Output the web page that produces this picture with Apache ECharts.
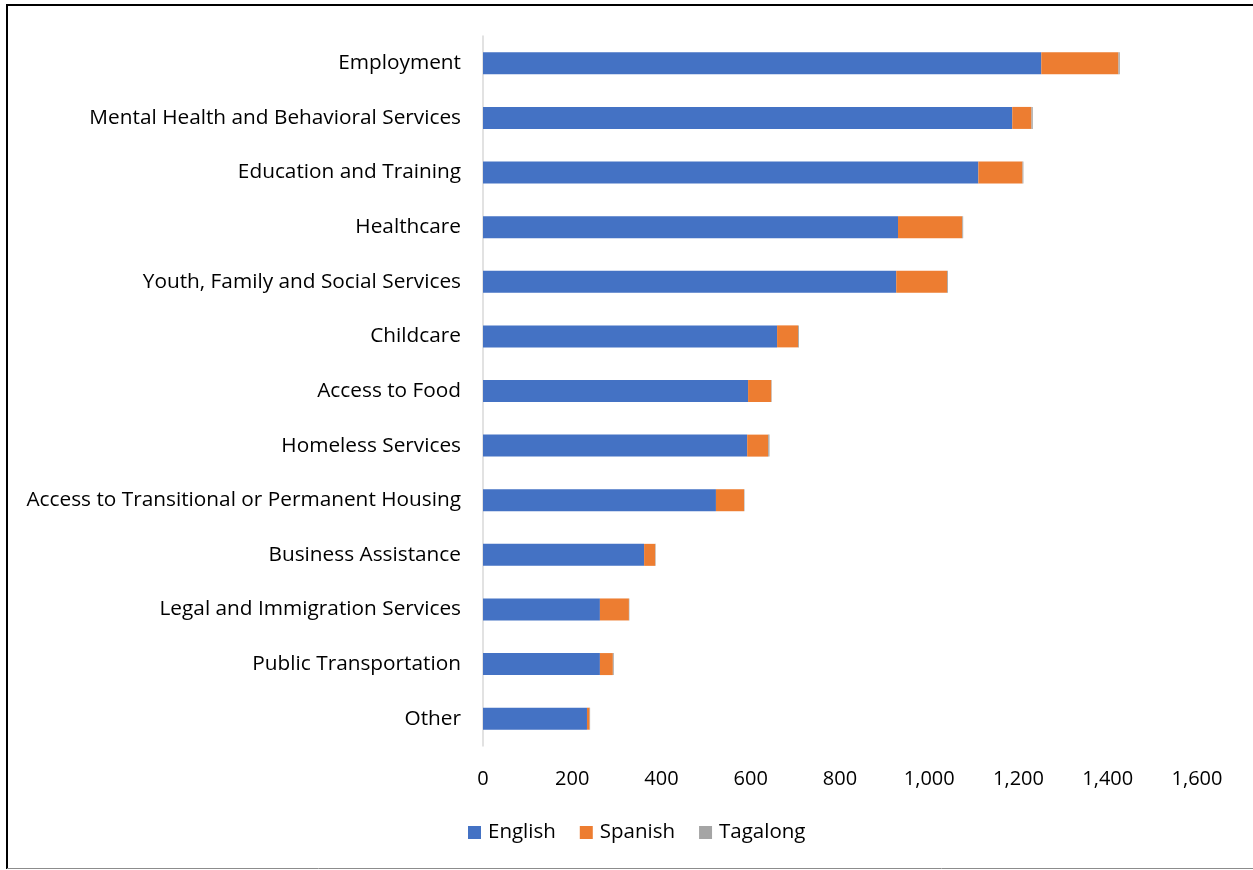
<!DOCTYPE html>
<html>
<head>
<meta charset="utf-8">
<script src="https://cdn.jsdelivr.net/npm/echarts@6/dist/echarts.min.js"></script>
<style>
  html, body { margin: 0; padding: 0; background: #fff; }
  #chart { width: 1253px; height: 870px; }
</style>
</head>
<body>
<div id="chart"></div>
<script>
// Service categories, listed top to bottom
const categories = [
  'Employment',
  'Mental Health and Behavioral Services',
  'Education and Training',
  'Healthcare',
  'Youth, Family and Social Services',
  'Childcare',
  'Access to Food',
  'Homeless Services',
  'Access to Transitional or Permanent Housing',
  'Business Assistance',
  'Legal and Immigration Services',
  'Public Transportation',
  'Other'
];

// Responses by survey language
const english  = [1251, 1186, 1110, 930, 926, 659, 594, 592, 522, 361, 262, 262, 233];
const spanish  = [173, 43, 99, 144, 114, 47, 52, 47, 63, 25, 65, 29, 6];
const tagalong = [3, 3, 2, 2, 2, 2, 1, 3, 1, 1, 1, 2, 1];

const seriesNames = ['English', 'Spanish', 'Tagalong'];
const seriesColors = ['#4472C4', '#ED7D31', '#A5A5A5'];
const seriesData = [english, spanish, tagalong];

const FONT = 'Open Sans';

const chart = echarts.init(document.getElementById('chart'), null, { renderer: 'canvas' });

chart.setOption({
  backgroundColor: '#ffffff',
  animation: false,
  textStyle: { fontFamily: FONT },
  grid: { left: 483, right: 56, top: 36, bottom: 124 },
  legend: {
    data: seriesNames,
    bottom: 22,
    left: 463,
    itemWidth: 13,
    itemHeight: 13,
    itemGap: 24,
    icon: 'rect',
    textStyle: { fontFamily: FONT, fontSize: 20.5, color: '#000', padding: [0, 0, 0, 2] }
  },
  xAxis: {
    type: 'value',
    min: 0,
    max: 1600,
    interval: 200,
    axisLine: { show: false },
    axisTick: { show: false },
    splitLine: { show: false },
    axisLabel: {
      fontFamily: FONT,
      fontSize: 20,
      color: '#000',
      margin: 23,
      formatter: v => v.toLocaleString('en-US')
    }
  },
  yAxis: {
    type: 'category',
    data: categories,
    inverse: true,
    axisLine: { show: true, lineStyle: { color: '#d9d9d9', width: 1.5 } },
    axisTick: { show: false },
    axisLabel: { fontFamily: FONT, fontSize: 20.8, color: '#000', margin: 22 }
  },
  series: seriesNames.map((name, i) => ({
    name,
    type: 'bar',
    stack: 'total',
    barWidth: 22,
    itemStyle: { color: seriesColors[i] },
    data: seriesData[i]
  })),
  graphic: [
    // figure frame
    { type: 'line', shape: { x1: 6, y1: 5, x2: 1253, y2: 5 }, style: { stroke: '#000', lineWidth: 2 } },
    { type: 'line', shape: { x1: 7, y1: 5, x2: 7, y2: 869 }, style: { stroke: '#000', lineWidth: 2 } },
    { type: 'line', shape: { x1: 7, y1: 868.5, x2: 1253, y2: 868.5 }, style: { stroke: '#8c8c8c', lineWidth: 1 } }
  ]
});
</script>
</body>
</html>
